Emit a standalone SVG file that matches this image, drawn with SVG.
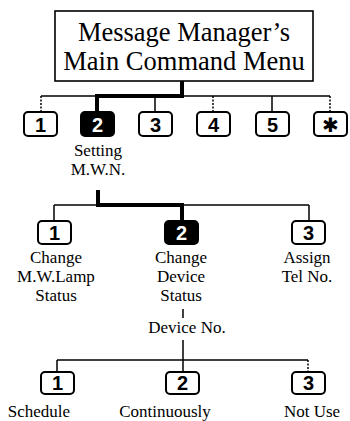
<svg xmlns="http://www.w3.org/2000/svg" width="350" height="421" viewBox="0 0 350 421">
<style>
.t{font-family:"Liberation Serif","Times New Roman",serif;fill:#000}
.title{font-size:26.5px;text-anchor:middle}
.lbl{font-size:17px;text-anchor:middle}
.box{fill:#fff;stroke:#000;stroke-width:1.6}
.key{fill:#fff;stroke:#000;stroke-width:2}
.keyon{fill:#000;stroke:#000;stroke-width:2}
.d{font-family:"Liberation Sans",Arial,sans-serif;font-weight:bold;font-size:20px;text-anchor:middle;fill:#000}
.don{fill:#fff}
.ln{stroke:#000;stroke-width:1.5;fill:none}
.thick{stroke:#000;stroke-width:4;fill:none}
.dot{stroke:#000;stroke-width:1.5;stroke-dasharray:2 1.5;fill:none}
</style>
<rect width="350" height="421" fill="#fff"/>
<g id="connectors">
  <line class="ln" x1="41" y1="96" x2="330" y2="96"/>
  <path class="thick" d="M182 81 V96 H97 V112"/>
  <line class="dot" x1="41" y1="96" x2="41" y2="112"/>
  <line class="ln" x1="155" y1="96" x2="155" y2="112"/>
  <line class="dot" x1="213" y1="96" x2="213" y2="112"/>
  <line class="ln" x1="272" y1="96" x2="272" y2="112"/>
  <line class="dot" x1="330" y1="96" x2="330" y2="112"/>
  <line class="ln" x1="54" y1="205" x2="309" y2="205"/>
  <path class="thick" d="M98 190 V205 H182 V221"/>
  <line class="ln" x1="54" y1="205" x2="54" y2="221"/>
  <line class="ln" x1="309" y1="205" x2="309" y2="221"/>
  <line class="ln" x1="183" y1="309" x2="183" y2="318"/>
  <line class="ln" x1="183" y1="340" x2="183" y2="372"/>
  <line class="ln" x1="57" y1="360" x2="308" y2="360"/>
  <line class="ln" x1="57" y1="360" x2="57" y2="372"/>
  <line class="dot" x1="308" y1="360" x2="308" y2="372"/>
</g>
<g id="main-menu">
  <rect class="box" x="55" y="11" width="258" height="70"/>
  <text class="t title" x="184" y="41">Message Manager’s</text>
  <text class="t title" x="184" y="70">Main Command Menu</text>
</g>
<g id="key-1"><rect class="key" x="24" y="112" width="33" height="24" rx="4"/><text class="d" x="40.5" y="132">1</text></g>
<g id="key-2"><rect class="keyon" x="81" y="112" width="33" height="24" rx="4"/><text class="d don" x="97.5" y="132">2</text>
  <text class="t lbl" x="98" y="156">Setting</text><text class="t lbl" x="98" y="175">M.W.N.</text></g>
<g id="key-3"><rect class="key" x="139" y="112" width="33" height="24" rx="4"/><text class="d" x="155.5" y="132">3</text></g>
<g id="key-4"><rect class="key" x="197" y="112" width="33" height="24" rx="4"/><text class="d" x="213.5" y="132">4</text></g>
<g id="key-5"><rect class="key" x="256" y="112" width="33" height="24" rx="4"/><text class="d" x="272.5" y="132">5</text></g>
<g id="key-star"><rect class="key" x="314" y="112" width="33" height="24" rx="4"/><text x="330.5" y="132" font-family="DejaVu Sans,sans-serif" font-weight="bold" font-size="20" text-anchor="middle">✱</text></g>
<g id="sub-1"><rect class="key" x="38" y="221" width="33" height="23" rx="4"/><text class="d" x="54.5" y="240">1</text>
  <text class="t lbl" x="56" y="263">Change</text><text class="t lbl" x="56" y="282">M.W.Lamp</text><text class="t lbl" x="56" y="301">Status</text></g>
<g id="sub-2"><rect class="keyon" x="165" y="221" width="33" height="23" rx="4"/><text class="d don" x="181.5" y="240">2</text>
  <text class="t lbl" x="181" y="263">Change</text><text class="t lbl" x="181" y="282">Device</text><text class="t lbl" x="181" y="301">Status</text></g>
<g id="sub-3"><rect class="key" x="292" y="221" width="33" height="23" rx="4"/><text class="d" x="308.5" y="240">3</text>
  <text class="t lbl" x="307" y="263">Assign</text><text class="t lbl" x="307" y="282">Tel No.</text></g>
<g id="device-no"><text class="t lbl" x="187" y="333">Device No.</text></g>
<g id="opt-1"><rect class="key" x="41" y="372" width="33" height="22" rx="4"/><text class="d" x="57.5" y="390">1</text>
  <text class="t lbl" x="39" y="417">Schedule</text></g>
<g id="opt-2"><rect class="key" x="166" y="372" width="33" height="22" rx="4"/><text class="d" x="182.5" y="390">2</text>
  <text class="t lbl" x="165" y="417">Continuously</text></g>
<g id="opt-3"><rect class="key" x="292" y="372" width="33" height="22" rx="4"/><text class="d" x="308.5" y="390">3</text>
  <text class="t lbl" x="312" y="417">Not Use</text></g>
</svg>
